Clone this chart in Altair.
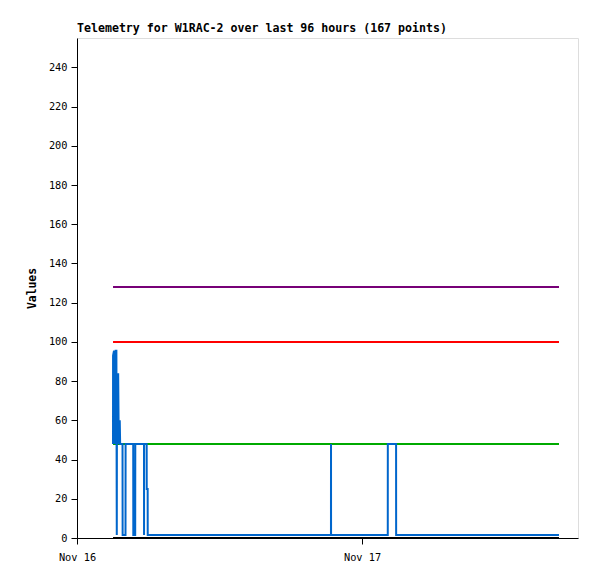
import altair as alt
import pandas as pd

# ---- data ----
blue_times = [
    "2023-11-16T03:02:00Z", "2023-11-16T03:02:10Z", "2023-11-16T03:07:00Z", "2023-11-16T03:12:00Z",
    "2023-11-16T03:15:00Z", "2023-11-16T03:19:00Z", "2023-11-16T03:21:00Z", "2023-11-16T03:22:00Z",
    "2023-11-16T03:25:00Z", "2023-11-16T03:28:00Z", "2023-11-16T03:30:00Z", "2023-11-16T03:33:00Z",
    "2023-11-16T03:36:00Z", "2023-11-16T03:38:00Z", "2023-11-16T03:50:00Z", "2023-11-16T03:50:30Z",
    "2023-11-16T04:05:00Z", "2023-11-16T04:05:30Z", "2023-11-16T04:44:00Z", "2023-11-16T04:44:30Z",
    "2023-11-16T04:54:00Z", "2023-11-16T04:54:30Z", "2023-11-16T05:38:30Z", "2023-11-16T05:38:45Z",
    "2023-11-16T05:39:00Z", "2023-11-16T05:52:00Z", "2023-11-16T05:52:15Z", "2023-11-16T05:57:00Z",
    "2023-11-16T05:57:15Z", "2023-11-16T21:23:00Z", "2023-11-16T21:23:15Z", "2023-11-16T21:23:30Z",
    "2023-11-17T02:10:00Z", "2023-11-17T02:10:15Z", "2023-11-17T02:52:00Z", "2023-11-17T02:52:15Z",
    "2023-11-17T16:35:00Z",
]
blue_values = [
    48, 93, 95.5, 48,
    95.5, 95.5, 1.5, 84,
    48, 84, 60, 48,
    60, 48, 48, 1.5,
    1.5, 48, 48, 1.5,
    1.5, 48, 48, 1.5,
    48, 48, 25, 25,
    1.5, 1.5, 48, 1.5,
    1.5, 48, 48, 1.5,
    1.5,
]

level_names = ["purple", "red", "green", "black"]
level_values = [128, 100, 48, 0]
level_start = "2023-11-16T03:02:00Z"
level_end = "2023-11-17T16:35:00Z"

y_ticks = list(range(0, 241, 20))
title_text = "Telemetry for W1RAC-2 over last 96 hours (167 points)"

# ---- styles ----
level_colors = ["#770077", "#ff0000", "#00aa00", "#000000"]
blue_color = "#0066cc"
FONT = "DejaVu Sans Mono"

blue_df = pd.DataFrame({"t": blue_times, "v": blue_values})
lvl_rows = []
for n, v in zip(level_names, level_values):
    lvl_rows.append({"name": n, "t": level_start, "v": v})
    lvl_rows.append({"name": n, "t": level_end, "v": v})
lvl_df = pd.DataFrame(lvl_rows)

x_enc = alt.X(
    "t:T",
    scale=alt.Scale(
        type="utc",
        domain=[
            alt.DateTime(year=2023, month=11, date=16, hours=0, minutes=0, utc=True),
            alt.DateTime(year=2023, month=11, date=17, hours=18, minutes=11, utc=True),
        ],
    ),
    axis=alt.Axis(
        values=[
            alt.DateTime(year=2023, month=11, date=16, utc=True),
            alt.DateTime(year=2023, month=11, date=17, utc=True),
        ],
        format="%b %d",
        title=None,
        grid=False,
        tickSize=6,
        labelPadding=8,
        labelAlign="center",
        labelFlush=False,
        labelFont=FONT,
        labelFontSize=10.3,
        labelColor="#000000",
        domainColor="#000000",
        tickColor="#000000",
    ),
)
y_enc = alt.Y(
    "v:Q",
    scale=alt.Scale(domain=[0, 255], nice=False, zero=True),
    axis=alt.Axis(
        values=y_ticks,
        title="Values",
        grid=False,
        tickSize=6,
        labelPadding=4,
        labelFont=FONT,
        labelFontSize=10.3,
        labelColor="#000000",
        titleFont=FONT,
        titleFontSize=11.4,
        titleFontWeight="bold",
        titleColor="#000000",
        titlePadding=11,
        domainColor="#000000",
        tickColor="#000000",
    ),
)

levels = alt.Chart(lvl_df).mark_line(strokeWidth=2, clip=True).encode(
    x=x_enc,
    y=y_enc,
    color=alt.Color("name:N", scale=alt.Scale(domain=level_names, range=level_colors), legend=None),
    detail="name:N",
)

blue = alt.Chart(blue_df).mark_line(strokeWidth=2, color=blue_color, clip=True).encode(
    x=x_enc,
    y=y_enc,
)

chart = alt.layer(levels, blue).properties(
    width=501,
    height=500,
    title=alt.TitleParams(
        text=title_text,
        anchor="start",
        frame="group",
        font=FONT,
        fontSize=11.6,
        fontWeight="bold",
        color="#000000",
        offset=3,
    ),
    autosize=alt.AutoSizeParams(type="none"),
    padding={"left": 69, "top": 30, "right": 11, "bottom": 33},
).configure_view(stroke="#444444", strokeWidth=1).configure(background="#ffffff")

chart.save("out.html", embed_options={"renderer": "svg", "actions": False})
